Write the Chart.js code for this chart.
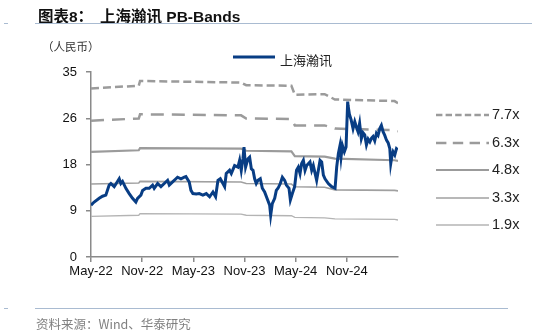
<!DOCTYPE html>
<html>
<head>
<meta charset="utf-8">
<script src="https://cdn.jsdelivr.net/npm/chart.js@4/dist/chart.umd.min.js"></script>
<style>
  html, body { margin: 0; padding: 0; background: #fff; }
  #wrap { position: relative; width: 537px; height: 332px; overflow: hidden; font-family: "Liberation Sans", Arial, "Noto Sans CJK SC", sans-serif; }
  #chart { position: absolute; left: 0; top: 0; }
  .t { position: absolute; white-space: nowrap; }
  .rule { position: absolute; background: #a9bbd1; }
</style>
</head>
<body>
<div id="wrap">
  <canvas id="chart" width="537" height="332"></canvas>

  <div class="t" style="left:38px; top:4px; font-size:15.5px; font-weight:bold; color:#111;">图表8：</div>
  <div class="t" style="left:100px; top:4px; font-size:15.5px; font-weight:bold; color:#111;">上海瀚讯 PB-Bands</div>
  <div class="rule" style="left:4px; top:22.5px; width:4px; height:1.5px;"></div>
  <div class="rule" style="left:35px; top:22.5px; width:497px; height:1.5px;"></div>

  <div class="t" style="left:42px; top:38px; font-size:11.5px; color:#333; font-family:'Noto Sans CJK SC', sans-serif;">（人民币）</div>

  <svg class="t" style="left:230px; top:52px;" width="50" height="10">
    <line x1="3" y1="5" x2="45" y2="5" stroke="#083d84" stroke-width="3"/>
  </svg>
  <div class="t" style="left:280px; top:50px; font-size:13px; color:#222; font-family:'Noto Sans CJK SC', sans-serif;">上海瀚讯</div>

  <div id="bandLegend"></div>

  <div class="rule" style="left:4px; top:307.5px; width:4px; height:1.5px;"></div>
  <div class="rule" style="left:35px; top:307.5px; width:473px; height:1.5px;"></div>
  <div class="t" style="left:36px; top:314px; font-size:12.5px; color:#808080; font-family:'Noto Sans CJK SC', sans-serif;">资料来源：Wind、华泰研究</div>
</div>

<script>
// months since May-2022
const tickMonths = [0, 6, 12, 18, 24, 30]
const tickLabels = ["May-22", "Nov-22", "May-23", "Nov-23", "May-24", "Nov-24"]
const yTicks = [0, 8.75, 17.5, 26.25, 35]

// 上海瀚讯 share price
const priceX = [0, 0.37, 0.96, 1.35, 1.74, 2.13, 2.33, 2.72, 3.31, 3.5, 3.7, 4.09, 4.48, 4.87, 5.26, 5.46, 5.85, 6.05, 6.44, 6.83,
  7.22, 7.41, 7.81, 8.2, 8.59, 8.98, 9.18, 9.57, 9.96, 10.15, 10.55, 10.94, 11.13, 11.52, 11.72, 11.95, 12.34, 12.7, 13.12, 13.52,
  13.91, 14.3, 14.61, 14.89, 15.16, 15.47, 15.67, 15.86, 16.25, 16.45, 16.84, 17.23, 17.43, 17.62, 17.82, 17.94, 18.13, 18.41, 18.6, 18.8,
  19.0, 19.19, 19.38, 19.58, 19.85, 20.09, 20.36, 20.64, 20.95, 21.07, 21.26, 21.54, 21.73, 21.93, 22.2, 22.44, 22.71, 22.91, 23.22, 23.38,
  23.61, 23.88, 24.1, 24.31, 24.51, 24.7, 24.9, 25.1, 25.29, 25.68, 25.88, 26.07, 26.46, 26.66, 26.86, 27.05, 27.25, 27.44, 27.83, 28.22,
  28.62, 28.81, 29.01, 29.2, 29.32, 29.48, 29.71, 29.91, 30.1, 30.15, 30.3, 30.5, 30.73, 30.93, 31.12, 31.31, 31.5, 31.7, 31.9, 32.1,
  32.3, 32.5, 32.7, 32.9, 33.07, 33.27, 33.47, 33.66, 33.86, 34.05, 34.25, 34.45, 34.65, 34.85, 35.04, 35.15, 35.3, 35.42, 35.62, 35.82, 35.97]
const priceY = [9.8, 10.4, 11.1, 11.5, 11.7, 13.6, 13.9, 13.3, 14.8, 13.9, 14.3, 13.0, 12.0, 11.1, 10.4, 11.1, 11.7, 12.6, 13.0, 13.0,
  13.6, 13.0, 13.9, 13.3, 13.9, 14.5, 13.6, 14.2, 14.8, 15.1, 14.8, 15.1, 15.2, 14.2, 12.6, 12.0, 11.9, 12.0, 11.7, 12.0,
  11.4, 12.3, 11.4, 14.5, 14.8, 13.9, 13.3, 15.8, 16.4, 15.8, 17.3, 17.0, 18.3, 16.4, 18.6, 20.8, 17.0, 18.6, 18.9, 16.7,
  16.4, 14.8, 13.9, 14.5, 14.8, 13.0, 12.3, 11.1, 9.8, 7.9, 10.1, 11.1, 12.6, 13.0, 13.9, 15.1, 14.5, 13.6, 13.0, 10.8,
  12.0, 13.3, 16.4, 17.0, 15.8, 17.7, 18.3, 16.4, 17.3, 18.0, 16.4, 17.3, 14.5, 16.4, 18.3, 18.0, 15.5, 14.8, 13.9, 13.3,
  13.0, 17.0, 19.6, 21.1, 18.9, 21.1, 19.9, 20.8, 29.4, 28.6, 27.0, 26.0, 24.3, 25.6, 24.6, 23.7, 25.3, 22.4, 23.5, 23.1,
  21.2, 22.3, 21.8, 22.5, 22.8, 22.0, 23.4, 23.0, 24.3, 24.9, 23.7, 23.0, 22.1, 21.6, 20.5, 17.7, 19.2, 19.9, 19.3, 20.5, 20.3]

// PB bands, read at their break points
const bandX = [0, 5.6, 5.75, 17.6, 18.2, 23.5, 23.9, 27.4, 28.6, 35.6, 36]
const band77 = [31.9, 32.4, 33.3, 33.0, 32.5, 32.4, 30.7, 30.8, 29.8, 29.5, 29.1]
const band63 = [25.8, 26.2, 27.0, 26.8, 26.2, 26.1, 24.9, 24.9, 24.3, 24.0, 23.8]
const band48 = [19.9, 20.2, 20.6, 20.5, 20.1, 20.0, 19.1, 19.0, 18.6, 18.3, 18.2]
const band33 = [13.8, 14.0, 14.3, 14.2, 13.9, 13.8, 13.3, 13.2, 12.7, 12.6, 12.5]
const band19 = [7.7, 7.9, 8.2, 8.1, 7.9, 7.8, 7.5, 7.4, 7.2, 7.1, 7.0]

const bandLabels = ["7.7x", "6.3x", "4.8x", "3.3x", "1.9x"]
const bandColors = ["#9b9b9b", "#9b9b9b", "#9b9b9b", "#a0a0a0", "#b4b4b4"]
const bandWidths = [2.5, 2.5, 2.2, 1.6, 1.3]
const bandDashes = [[8, 4], [13, 8], [], [], []]
const legendY = [115, 143, 170, 198, 225]

const pts = (xs, ys) => xs.map((x, i) => ({ x: x, y: ys[i] }))
const bands = [band77, band63, band48, band33, band19]

const datasets = [{
  label: "上海瀚讯",
  data: pts(priceX, priceY),
  borderColor: "#083d84",
  borderWidth: 3,
  pointRadius: 0,
  tension: 0
}]
bands.forEach((b, i) => {
  datasets.push({
    label: bandLabels[i],
    data: pts(bandX, b),
    borderColor: bandColors[i],
    borderWidth: bandWidths[i],
    borderDash: bandDashes[i],
    pointRadius: 0,
    tension: 0
  })
})

// right-hand band legend
const bl = document.getElementById("bandLegend")
bandLabels.forEach((lab, i) => {
  const dash = bandDashes[i].length ? `stroke-dasharray="${bandDashes[i].map(d => d * 0.8).join(",")}"` : ""
  bl.insertAdjacentHTML("beforeend",
    `<svg class="t" style="left:435px; top:${legendY[i] - 5}px;" width="56" height="10">
       <line x1="1" y1="5" x2="54" y2="5" stroke="${bandColors[i]}" stroke-width="${bandWidths[i]}" ${dash}/>
     </svg>
     <div class="t" style="left:492px; top:${legendY[i] - 9}px; font-size:14.5px; color:#222;">${lab}</div>`)
})

const axisColor = "#8a8a8a"
const tickFont = { family: "'Liberation Sans', Arial, sans-serif", size: 13 }

new Chart(document.getElementById("chart"), {
  type: "line",
  data: { datasets: datasets },
  options: {
    responsive: false,
    animation: false,
    layout: { padding: { top: 72, right: 139, bottom: 0, left: 0 } },
    scales: {
      x: {
        type: "linear",
        min: 0,
        max: 36,
        afterBuildTicks: s => { s.ticks = tickMonths.map(v => ({ value: v })) },
        afterFit: s => { s.height = 75 },
        ticks: {
          color: "#111",
          font: tickFont,
          padding: 2,
          maxRotation: 0,
          autoSkip: false,
          callback: v => tickLabels[tickMonths.indexOf(v)]
        },
        grid: { drawOnChartArea: false, tickLength: 5, color: axisColor, lineWidth: 1.5 },
        border: { color: axisColor, width: 1.5 }
      },
      y: {
        min: 0,
        max: 35,
        afterBuildTicks: s => { s.ticks = yTicks.map(v => ({ value: v })) },
        afterFit: s => { s.width = 91 },
        ticks: {
          color: "#111",
          font: tickFont,
          padding: 9,
          callback: v => Math.round(v)
        },
        grid: { drawOnChartArea: false, tickLength: 5, color: axisColor, lineWidth: 1.5 },
        border: { color: axisColor, width: 1.5 }
      }
    },
    plugins: {
      legend: { display: false },
      tooltip: { enabled: false }
    }
  }
})
</script>
</body>
</html>
